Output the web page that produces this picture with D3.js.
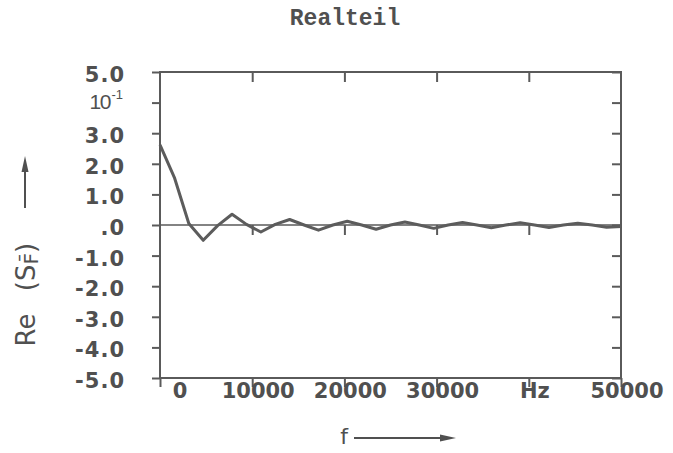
<!DOCTYPE html>
<html>
<head>
<meta charset="utf-8">
<script src="https://cdn.jsdelivr.net/npm/d3@7"></script>
<style>
  html, body { margin: 0; padding: 0; background: #fff; }
  svg { display: block; }
</style>
</head>
<body>
<svg id="chart" width="673" height="453"></svg>
<script>
// ---- data ----
const title = "Realteil";
const freqHz = [0, 1562.5, 3125, 4687.5, 6250, 7812.5, 9375, 10937.5, 12500, 14062.5,
  15625, 17187.5, 18750, 20312.5, 21875, 23437.5, 25000, 26562.5, 28125, 29687.5,
  31250, 32812.5, 34375, 35937.5, 37500, 39062.5, 40625, 42187.5, 43750, 45312.5,
  46875, 48437.5, 50000];
const realPart = [2.62, 1.55, 0.05, -0.50, -0.02, 0.35, 0.02, -0.23, 0.02, 0.18,
  0.00, -0.17, 0.00, 0.12, 0.00, -0.14, 0.00, 0.10, 0.00, -0.11,
  0.00, 0.08, 0.00, -0.09, 0.00, 0.07, 0.00, -0.08, 0.00, 0.06,
  0.00, -0.07, -0.05];
const yTickValues = [5, 4, 3, 2, 1, 0, -1, -2, -3, -4, -5];
const yTickLabels = ["5.0", "10^-1", "3.0", "2.0", "1.0", ".0", "-1.0", "-2.0", "-3.0", "-4.0", "-5.0"];
const xTickValues = [0, 10000, 20000, 30000, 40000, 50000];
const xTickLabels = ["0", "10000", "20000", "30000", "Hz", "50000"];
const xInnerTicks = [10000, 20000, 30000, 40000];

// ---- layout ----
const L = 160, R = 621, T = 72, B = 378;
const ink = "#505050";
const lineInk = "#5a5a5a";
const svg = d3.select("#chart");

const x = d3.scaleLinear().domain([0, 50000]).range([L, R]);
const y = d3.scaleLinear().domain([-5, 5]).range([B, T]);

// title
svg.append("text")
  .attr("x", 345).attr("y", 25)
  .attr("text-anchor", "middle")
  .attr("font-family", "'Liberation Mono', 'DejaVu Sans Mono', monospace")
  .attr("font-weight", "bold")
  .attr("font-size", 23)
  .attr("fill", ink)
  .text(title);

// frame
svg.append("rect")
  .attr("x", L).attr("y", T).attr("width", R - L).attr("height", B - T)
  .attr("fill", "none").attr("stroke", lineInk).attr("stroke-width", 2);

function styleAxis(g) {
  g.select(".domain").remove();
  g.selectAll(".tick line").attr("stroke", lineInk).attr("stroke-width", 2);
  g.selectAll(".tick text").remove();
}

// left axis: outward ticks
svg.append("g").attr("transform", `translate(${L},0)`)
  .call(d3.axisLeft(y).tickValues(yTickValues).tickSize(8).tickFormat(""))
  .call(styleAxis);
// right axis: inward ticks
svg.append("g").attr("transform", `translate(${R},0)`)
  .call(d3.axisLeft(y).tickValues(yTickValues).tickSize(9).tickFormat(""))
  .call(styleAxis);
// top axis: inward ticks
svg.append("g").attr("transform", `translate(0,${T})`)
  .call(d3.axisBottom(x).tickValues(xInnerTicks).tickSize(10).tickFormat(""))
  .call(styleAxis);
// bottom axis: outward ticks
svg.append("g").attr("transform", `translate(0,${B})`)
  .call(d3.axisBottom(x).tickValues(xTickValues).tickSize(9).tickFormat(""))
  .call(styleAxis);

// zero line with small downward ticks
svg.append("line")
  .attr("x1", L).attr("x2", R).attr("y1", y(0)).attr("y2", y(0))
  .attr("stroke", lineInk).attr("stroke-width", 1.6);
svg.append("g").attr("transform", `translate(0,${y(0)})`)
  .call(d3.axisBottom(x).tickValues(xInnerTicks).tickSize(10).tickFormat(""))
  .call(styleAxis);

// y tick labels
const tickFont = "'DejaVu Sans', sans-serif";
yTickValues.forEach((v, i) => {
  const lab = yTickLabels[i];
  if (lab.includes("^")) {
    const [base, exp] = lab.split("^");
    const t = svg.append("text")
      .attr("x", 123).attr("y", y(v) + 6)
      .attr("text-anchor", "end")
      .attr("font-family", "'Liberation Sans', Arial, sans-serif")
      .attr("fill", ink);
    t.append("tspan").attr("font-size", 21).attr("letter-spacing", -1.5).text(base);
    t.append("tspan").attr("font-size", 13).attr("dy", -10).attr("dx", 1.5).text(exp);
  } else {
    svg.append("text")
      .attr("x", 125).attr("y", y(v) + 10)
      .attr("text-anchor", "end")
      .attr("font-family", tickFont).attr("font-weight", "bold")
      .attr("font-size", 21).attr("letter-spacing", 1)
      .attr("fill", ink)
      .text(lab);
  }
});

// x tick labels
xTickValues.forEach((v, i) => {
  const dx = v === 0 ? 20 : 6;
  svg.append("text")
    .attr("x", x(v) + dx).attr("y", 398)
    .attr("text-anchor", "middle")
    .attr("font-family", tickFont).attr("font-weight", "bold")
    .attr("font-size", 21)
    .attr("fill", ink)
    .text(xTickLabels[i]);
});

// data curve
const line = d3.line().x((d, i) => x(freqHz[i])).y(d => y(d));
svg.append("path")
  .datum(realPart)
  .attr("d", line)
  .attr("fill", "none")
  .attr("stroke", "#5c5c5c")
  .attr("stroke-width", 3)
  .attr("stroke-linejoin", "round");

// y axis title (rotated)
const titleFont = "'DejaVu Sans', sans-serif";
svg.append("text")
  .attr("transform", "translate(35,330) rotate(-90)")
  .attr("text-anchor", "middle")
  .attr("font-family", titleFont).attr("font-size", 26)
  .attr("fill", ink)
  .text("Re");
const sf = svg.append("text")
  .attr("transform", "translate(35,267) rotate(-90)")
  .attr("text-anchor", "middle")
  .attr("font-family", titleFont).attr("font-size", 26)
  .attr("fill", ink);
sf.append("tspan").text("(S");
sf.append("tspan").attr("font-size", 20).attr("dy", 3).text("F\u0304");
sf.append("tspan").attr("dy", -3).text(")");
// up arrow
svg.append("line").attr("x1", 25).attr("x2", 25).attr("y1", 208).attr("y2", 166)
  .attr("stroke", ink).attr("stroke-width", 2);
svg.append("path").attr("d", "M25,156 L21.5,172 L28.5,172 Z").attr("fill", ink);

// x axis title
svg.append("text")
  .attr("x", 344).attr("y", 444)
  .attr("text-anchor", "middle")
  .attr("font-family", titleFont).attr("font-size", 22)
  .attr("fill", ink)
  .text("f");
svg.append("line").attr("x1", 354).attr("x2", 444).attr("y1", 438).attr("y2", 438)
  .attr("stroke", ink).attr("stroke-width", 2);
svg.append("path").attr("d", "M456,438 L440,434.5 L440,441.5 Z").attr("fill", ink);
</script>
</body>
</html>
